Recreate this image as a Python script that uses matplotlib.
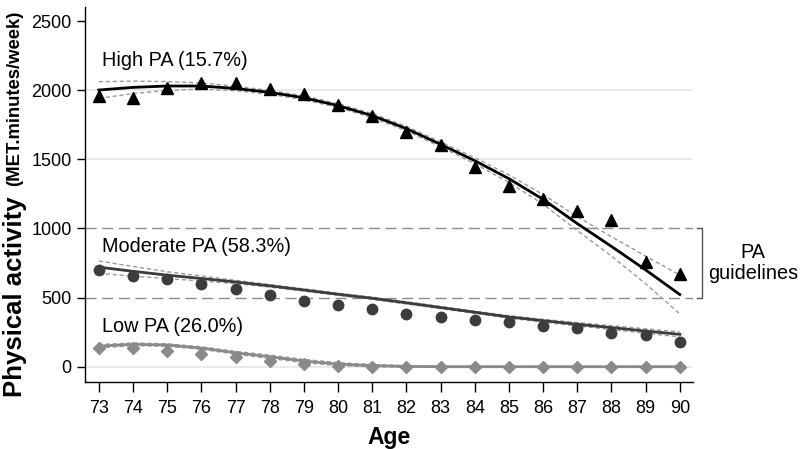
import matplotlib.pyplot as plt

plt.rcParams['font.family'] = ['Liberation Sans', 'DejaVu Sans']

ages = list(range(73, 91))

# observed means
high_obs = [1960, 1945, 2015, 2050, 2050, 2010, 1975, 1895, 1810, 1695, 1604, 1443, 1306, 1215, 1123, 1058, 758, 669]
mod_obs = [697, 654, 632, 601, 560, 519, 476, 443, 416, 378, 361, 337, 320, 294, 277, 241, 226, 176]
low_obs = [137, 132, 116, 89, 68, 43, 17, 5, 0, 0, 0, 0, 0, 0, 0, 0, 0, 0]

# fitted curves
high_fit = [2001, 2020, 2030, 2030, 2012, 1984, 1945, 1888, 1816, 1722, 1608, 1490, 1360, 1210, 1035, 870, 700, 522]
mod_fit = [720, 690, 662, 638, 613, 585, 555, 524, 495, 462, 428, 394, 360, 333, 307, 283, 258, 234]
low_fit = [149, 162, 157, 135, 101, 72, 41, 19, 8, 2, 0, 0, 0, 0, 0, 0, 0, 0]

# confidence band half widths
high_ci = [60, 45, 32, 22, 16, 14, 14, 14, 15, 16, 18, 22, 27, 35, 50, 70, 100, 140]
mod_ci = [45, 35, 25, 18, 12, 9, 8, 8, 8, 8, 8, 8, 9, 10, 12, 14, 16, 18]
low_ci = [12, 10, 9, 9, 10, 12, 12, 10, 8, 6, 4, 3, 2, 2, 2, 2, 2, 2]

series = [
    ("High PA (15.7%)", high_obs, high_fit, high_ci, "black", "^", 8.5),
    ("Moderate PA (58.3%)", mod_obs, mod_fit, mod_ci, "#3c3c3c", "o", 7.5),
    ("Low PA (26.0%)", low_obs, low_fit, low_ci, "#8a8a8a", "D", 6.5),
]

fig = plt.figure(figsize=(8, 4.49), dpi=100)
ax = fig.add_axes([0.106, 0.15, 0.76, 0.834])

for y in [0, 1500, 2000]:
    ax.axhline(y, color="#e6e6e6", lw=1.2, zorder=0)
for y in [500, 1000]:
    ax.axhline(y, color="#8c8c8c", lw=1.0, ls=(0, (8, 4)), zorder=1)

for name, obs, fit, ci, col, mk, ms in series:
    upper = [f + c for f, c in zip(fit, ci)]
    lower = [f - c for f, c in zip(fit, ci)]
    ax.plot(ages, obs, ls="none", marker=mk, color=col, ms=ms, zorder=3)
    ax.plot(ages, fit, color=col, lw=2, zorder=4)
    ax.plot(ages, upper, color="#9a9a9a", lw=1, ls=(0, (3, 2)), zorder=2)
    ax.plot(ages, lower, color="#9a9a9a", lw=1, ls=(0, (3, 2)), zorder=2)

ax.text(73.1, 2215, "High PA (15.7%)", fontsize=14.3, va="center")
ax.text(73.1, 872, "Moderate PA (58.3%)", fontsize=14.3, va="center")
ax.text(73.1, 293, "Low PA (26.0%)", fontsize=14.3, va="center")

ax.set_xlim(72.59, 90.38)
ax.set_ylim(-108, 2600)
ax.set_xticks(ages)
ax.set_yticks([0, 500, 1000, 1500, 2000, 2500])
ax.tick_params(labelsize=13, length=6, width=1, direction="out")
ax.tick_params(axis="x", length=7, pad=6)
for s in ["top", "right"]:
    ax.spines[s].set_visible(False)
ax.spines["left"].set_linewidth(1)
ax.spines["bottom"].set_linewidth(1)

# bracket for guidelines
bx = 90.64
ax.plot([90.5, bx, bx, 90.5], [1000, 1000, 500, 500], color="#555555", lw=1, clip_on=False)
ax.text(92.15, 750, "PA\nguidelines", fontsize=14.3, ha="center", va="center",
        linespacing=1.1, clip_on=False)

ax.set_xlabel("Age", fontsize=16.5, fontweight="bold", labelpad=7)

fig.text(15 / 800, 1 - 397 / 449, "Physical activity ", rotation=90, fontsize=18.5,
         fontweight="bold", ha="left", va="center", rotation_mode="anchor")
fig.text(15 / 800, 1 - 186 / 449, "(MET.minutes/week)", rotation=90, fontsize=13.3,
         fontweight="bold", ha="left", va="center", rotation_mode="anchor")

fig.savefig("out.png", dpi=100)
